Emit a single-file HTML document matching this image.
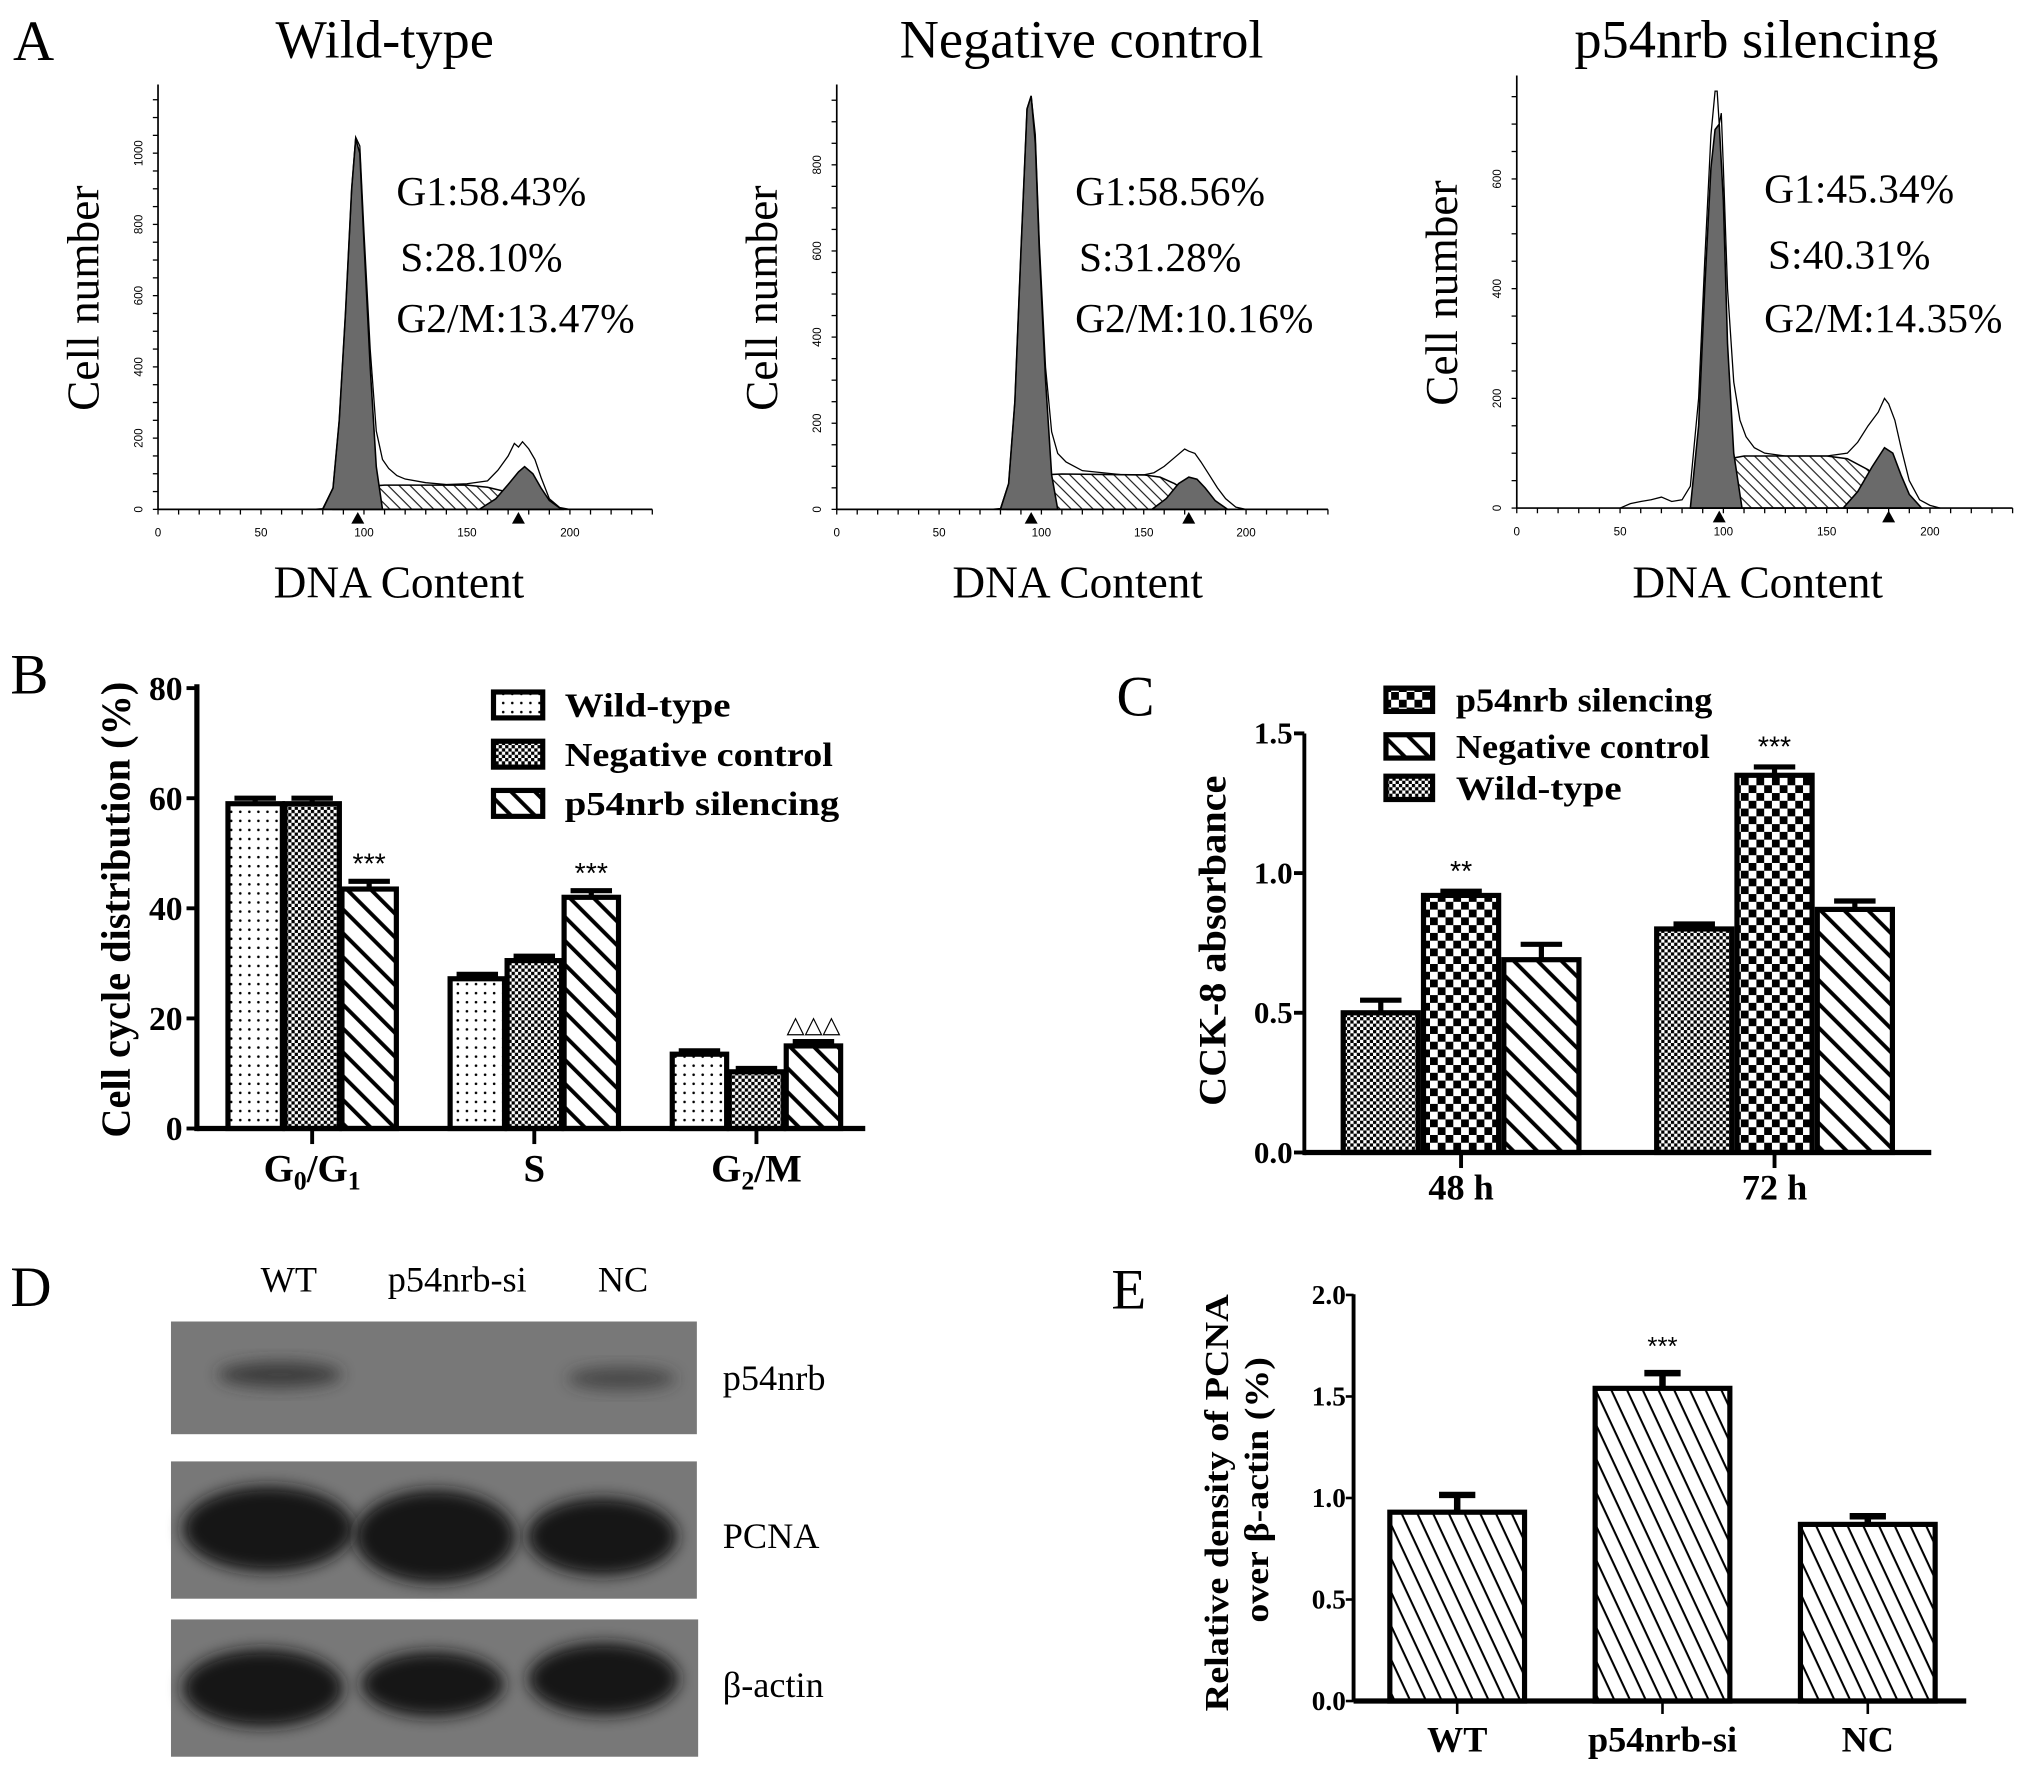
<!DOCTYPE html>
<html><head><meta charset="utf-8"><style>
html,body{margin:0;padding:0;background:#fff;}
svg{display:block;}
text{font-family:"Liberation Serif",serif;}
.sans{font-family:"Liberation Sans",sans-serif;}
</style></head><body>
<svg id="fig" xmlns="http://www.w3.org/2000/svg" width="2031" height="1770" viewBox="0 0 1568 1366">
<defs>
<pattern id="dots" width="7" height="7" patternUnits="userSpaceOnUse"><rect width="7" height="7" fill="#fff"/><circle cx="3.5" cy="3.5" r="1" fill="#000"/></pattern>
<pattern id="fineCheck" width="5" height="5" patternUnits="userSpaceOnUse"><rect width="5" height="5" fill="#fff"/><rect width="2.5" height="2.5" fill="#000"/><rect x="2.5" y="2.5" width="2.5" height="2.5" fill="#000"/></pattern>
<pattern id="bigCheck" width="12" height="12" patternUnits="userSpaceOnUse"><rect width="12" height="12" fill="#fff"/><rect width="6" height="6" fill="#000"/><rect x="6" y="6" width="6" height="6" fill="#000"/></pattern>
<pattern id="hatch" width="13" height="13" patternUnits="userSpaceOnUse" patternTransform="rotate(-45)"><rect width="13" height="13" fill="#fff"/><line x1="3" y1="0" x2="3" y2="13" stroke="#000" stroke-width="3"/></pattern>
<pattern id="hatchE" width="11" height="11" patternUnits="userSpaceOnUse" patternTransform="rotate(-25)"><rect width="11" height="11" fill="#fff"/><line x1="3" y1="0" x2="3" y2="11" stroke="#000" stroke-width="1.6"/></pattern>
<pattern id="hatchS" width="6" height="6" patternUnits="userSpaceOnUse" patternTransform="rotate(-45)"><rect width="6" height="6" fill="#fff"/><line x1="1" y1="0" x2="1" y2="6" stroke="#000" stroke-width="0.8"/></pattern>
<filter id="blur" x="-30%" y="-50%" width="160%" height="200%"><feGaussianBlur stdDeviation="6"/></filter>
</defs>

<text x="10" y="46" font-size="44">A</text>
<text x="297" y="44" font-size="42" text-anchor="middle">Wild-type</text>
<text x="835" y="44" font-size="42" text-anchor="middle">Negative control</text>
<text x="1356" y="44" font-size="42" text-anchor="middle">p54nrb silencing</text>

<g id="histWT"></g>
<g id="histNC"></g>
<g id="histP54"></g>

<text x="306" y="158" font-size="32">G1:58.43%</text>
<text x="309" y="209" font-size="32">S:28.10%</text>
<text x="306" y="256" font-size="32">G2/M:13.47%</text>
<text x="830" y="158" font-size="32">G1:58.56%</text>
<text x="833" y="209" font-size="32">S:31.28%</text>
<text x="830" y="256" font-size="32">G2/M:10.16%</text>
<text x="1362" y="156" font-size="32">G1:45.34%</text>
<text x="1365" y="207" font-size="32">S:40.31%</text>
<text x="1362" y="256" font-size="32">G2/M:14.35%</text>

<text x="8" y="535" font-size="44">B</text>
<g id="chartB"></g>
<text x="862" y="552" font-size="44">C</text>
<g id="chartC"></g>

<text x="8" y="1008" font-size="44">D</text>
<text x="223" y="997" font-size="28" text-anchor="middle">WT</text>
<text x="353" y="997" font-size="28" text-anchor="middle">p54nrb-si</text>
<text x="481" y="997" font-size="28" text-anchor="middle">NC</text>
<g>
<rect x="132" y="1020" width="406" height="87" fill="#787878"/>
<ellipse cx="216" cy="1061" rx="48" ry="10" fill="#2a2a2a" opacity="0.75" filter="url(#blur)"/>
<ellipse cx="480" cy="1064" rx="42" ry="9" fill="#2a2a2a" opacity="0.6" filter="url(#blur)"/>
</g>
<g>
<rect x="132" y="1128" width="406" height="106" fill="#787878"/>
<ellipse cx="207" cy="1180" rx="66" ry="33" fill="#141414" filter="url(#blur)"/>
<ellipse cx="336" cy="1186" rx="62" ry="36" fill="#141414" filter="url(#blur)"/>
<ellipse cx="465" cy="1186" rx="58" ry="30" fill="#141414" filter="url(#blur)"/>
</g>
<g>
<rect x="132" y="1250" width="407" height="106" fill="#787878"/>
<ellipse cx="203" cy="1303" rx="62" ry="30" fill="#141414" filter="url(#blur)"/>
<ellipse cx="334" cy="1300" rx="55" ry="25" fill="#141414" filter="url(#blur)"/>
<ellipse cx="466" cy="1296" rx="58" ry="28" fill="#141414" filter="url(#blur)"/>
</g>
<text x="558" y="1073" font-size="28">p54nrb</text>
<text x="558" y="1195" font-size="28">PCNA</text>
<text x="558" y="1310" font-size="28">β-actin</text>

<text x="858" y="1010" font-size="44">E</text>
<g id="chartE"></g>
</svg>
<script>
// ===== Panel A histogram data =====
const wtBins = [75,80,85,88,91,94,96,98,100,103,106,109,112,116,120,130,140,150,160,165,170,173,175,177,180,183,186,190,195,200];
const wtCounts = [0,2,60,250,550,900,1045,1020,780,450,220,140,115,95,85,75,70,72,80,110,150,185,175,190,170,140,90,30,5,0];
const wtG1X = [80,85,88,91,94,96,98,100,103,106,109];
const wtG1Y = [0,60,250,550,900,1040,1000,750,400,120,0];
const wtSX = [86,95,103,110,150,160,170,180,190];
const wtSY = [0,30,65,68,68,62,48,25,0];
const wtG2X = [156,164,170,175,178,182,186,190,196];
const wtG2Y = [0,30,70,105,120,100,60,25,0];
const wtPeaks = [97,175];

const ncBins = [75,80,84,87,90,93,95,97,99,102,105,108,112,116,120,130,140,150,155,160,165,170,172,175,178,182,186,190,195,200];
const ncCounts = [0,2,60,250,600,930,960,870,620,330,180,130,110,100,90,85,80,80,85,100,120,140,135,130,110,80,50,25,5,0];
const ncG1X = [80,84,87,90,93,95,97,99,102,105,108];
const ncG1Y = [0,60,250,600,930,960,850,600,300,80,0];
const ncSX = [84,92,100,110,150,158,165,175,185];
const ncSY = [0,30,80,82,80,75,60,30,0];
const ncG2X = [154,161,167,172,176,180,185,191];
const ncG2Y = [0,25,60,75,70,50,20,0];
const ncPeaks = [95,172];

const p54Bins = [50,55,60,65,70,75,80,84,88,91,94,96,97,98,99,100,102,105,108,111,115,120,130,140,150,160,165,170,175,178,180,183,186,190,195,200,205];
const p54Counts = [0,8,12,15,20,12,15,40,200,450,680,760,760,700,720,620,400,230,160,130,110,100,95,95,95,100,120,150,175,200,190,160,110,50,15,5,0];
const p54G1X = [84,88,91,94,96,98,100,102,105,109];
const p54G1Y = [0,150,400,620,690,700,560,300,100,0];
const p54SX = [86,95,103,110,150,160,170,180,192];
const p54SY = [0,40,90,95,95,90,70,35,0];
const p54G2X = [158,165,172,178,182,186,190,196];
const p54G2Y = [0,30,75,110,100,60,25,0];
const p54Peaks = [98,180];

const histXTicks = [0,50,100,150,200];
const wtYTicks = [0,200,400,600,800,1000];
const ncYTicks = [0,200,400,600,800];
const p54YTicks = [0,200,400,600];

// ===== Panel B data =====
const bCategories = ["G0/G1","S","G2/M"];
const bSeries = ["Wild-type","Negative control","p54nrb silencing"];
const bWT = [59,27.2,13.5];
const bNC = [59,30.5,10.3];
const bP54 = [43.5,42,15];
const bErrWT = [1,0.8,0.6];
const bErrNC = [1,0.8,0.6];
const bErrP54 = [1.4,1.2,0.8];
const bYTicks = [0,20,40,60,80];

// ===== Panel C data =====
const cCategories = ["48 h","72 h"];
const cSeries = ["p54nrb silencing","Negative control","Wild-type"];
const cWT = [0.50,0.80];
const cP54 = [0.92,1.35];
const cNC = [0.69,0.87];
const cErrWT = [0.045,0.018];
const cErrP54 = [0.015,0.03];
const cErrNC = [0.055,0.03];
const cYTicks = [0.0,0.5,1.0,1.5];

// ===== Panel E data =====
const eCategories = ["WT","p54nrb-si","NC"];
const eValues = [0.93,1.54,0.87];
const eErrors = [0.085,0.075,0.04];
const eYTicks = [0.0,0.5,1.0,1.5,2.0];

const NS = "http://www.w3.org/2000/svg";
function mk(parent, tag, attrs, txt){
  const e = document.createElementNS(NS, tag);
  for (const k in attrs) e.setAttribute(k, attrs[k]);
  if (txt !== undefined) e.textContent = txt;
  parent.appendChild(e);
  return e;
}

function drawHist(gid, cfg, bins, counts, g1x, g1y, sx, sy, g2x, g2y, peaks, yTicks){
  const g = document.getElementById(gid);
  const X = v => cfg.x0 + v*cfg.kx;
  const Y = v => cfg.y0 - v*cfg.ky;
  const pts = (xs, ys) => xs.map((x,i)=>X(x).toFixed(1)+","+Y(ys[i]).toFixed(1)).join(" ");
  let e;
  e = mk(g,"polygon",{points:pts(sx,sy),fill:"url(#hatchS)",stroke:"#000","stroke-width":1.2});
  
  
  e = mk(g,"polygon",{points:pts(g1x,g1y),fill:"#6a6a6a",stroke:"#000","stroke-width":1.2});
  
  
  e = mk(g,"polygon",{points:pts(g2x,g2y),fill:"#6a6a6a",stroke:"#000","stroke-width":1.2});
  
  
  e = mk(g,"polyline",{points:pts(bins,counts),fill:"none",stroke:"#000","stroke-width":1});
  
  
  const xEnd = X(240);
  const yTop = cfg.yTop;
  mk(g,"line",{x1:cfg.x0,y1:cfg.y0,x2:xEnd,y2:cfg.y0,stroke:"#000","stroke-width":1.3});
  mk(g,"line",{x1:cfg.x0,y1:cfg.y0,x2:cfg.x0,y2:yTop,stroke:"#000","stroke-width":1.3});
  for (let v=0; v<=240; v+=10){
    mk(g,"line",{x1:X(v),y1:cfg.y0,x2:X(v),y2:cfg.y0+4,stroke:"#000","stroke-width":1});
  }
  histXTicks.forEach(v=>{
    const t = mk(g,"text",{x:X(v),y:cfg.y0+21,"font-size":9,"text-anchor":"middle",class:"sans"},String(v));
    
    
  });
  for (let v=0; Y(v)>=yTop; v+=cfg.minor){
    mk(g,"line",{x1:cfg.x0,y1:Y(v),x2:cfg.x0-4,y2:Y(v),stroke:"#000","stroke-width":1});
  }
  yTicks.forEach(v=>{
    const t = mk(g,"text",{x:0,y:0,"font-size":9,"text-anchor":"middle",class:"sans",transform:`translate(${cfg.x0-12},${Y(v)}) rotate(-90)`},String(v));
    
    
  });
  peaks.forEach(p=>{
    const px = X(p);
    const m = mk(g,"polygon",{points:`${px-5},${cfg.y0+11} ${px+5},${cfg.y0+11} ${px},${cfg.y0+2}`,fill:"#000"});
    
    
  });
  let t = mk(g,"text",{x:0,y:0,"font-size":35,"text-anchor":"middle",transform:`translate(${cfg.x0-46},${(cfg.y0+yTop)/2+1}) rotate(-90)`},"Cell number");
  
  
  t = mk(g,"text",{x:cfg.x0+186,y:461,"font-size":35,"text-anchor":"middle"},"DNA Content");
  
  
}
drawHist("histWT",{x0:122,kx:1.59,y0:393,ky:0.275,yTop:65,minor:50},wtBins,wtCounts,wtG1X,wtG1Y,wtSX,wtSY,wtG2X,wtG2Y,wtPeaks,wtYTicks);
drawHist("histNC",{x0:646,kx:1.58,y0:393,ky:0.3325,yTop:65,minor:50},ncBins,ncCounts,ncG1X,ncG1Y,ncSX,ncSY,ncG2X,ncG2Y,ncPeaks,ncYTicks);
drawHist("histP54",{x0:1171,kx:1.595,y0:392,ky:0.4235,yTop:58,minor:50},p54Bins,p54Counts,p54G1X,p54G1Y,p54SX,p54SY,p54G2X,p54G2Y,p54Peaks,p54YTicks);

function bar(g, x, w, yTop, yBase, fill, name){
  const r = mk(g,"rect",{x:x,y:yTop,width:w,height:yBase-yTop,fill:fill,stroke:"#000","stroke-width":4});
  
  
  return r;
}
function errBar(g, cx, yv, ye, half, sw){
  const e = mk(g,"path",{d:`M${cx},${yv} V${ye} M${cx-half},${ye} H${cx+half}`,stroke:"#000","stroke-width":sw,fill:"none"});
  
  
}

// ===== Panel B =====
(function(){
  const g = document.getElementById("chartB");
  const x0=152, y0=871, top=528;
  const Y = v => y0 - v*(340/80);
  const gx = i => 241 + i*171.5;
  const fills = ["url(#dots)","url(#fineCheck)","url(#hatch)"];
  const vals = [bWT,bNC,bP54], errs=[bErrWT,bErrNC,bErrP54];
  bCategories.forEach((c,i)=>{
    vals.forEach((s,j)=>{
      const cx = gx(i)+(j-1)*44;
      errBar(g,cx,Y(s[i]),Y(s[i]+errs[j][i]),16,4);
      bar(g,cx-21,42,Y(s[i]),y0,fills[j],"bar-"+bSeries[j].toLowerCase().replace(/ /g,'-')+"-"+i);
    });
    mk(g,"line",{x1:gx(i),y1:y0,x2:gx(i),y2:y0+12,stroke:"#000","stroke-width":3});
  });
  mk(g,"line",{x1:x0,y1:y0,x2:668,y2:y0,stroke:"#000","stroke-width":4});
  mk(g,"line",{x1:x0,y1:y0+2,x2:x0,y2:top,stroke:"#000","stroke-width":4});
  bYTicks.forEach(v=>{
    mk(g,"line",{x1:x0,y1:Y(v),x2:x0-8,y2:Y(v),stroke:"#000","stroke-width":3});
    const t = mk(g,"text",{x:x0-11,y:Y(v)+9,"font-size":26,"font-weight":"bold","text-anchor":"end"},String(v));
    
    
  });
  const labels = [["G","0","/G","1"],["S"],["G","2","/M"]];
  labels.forEach((parts,i)=>{
    const t = mk(g,"text",{x:gx(i),y:912,"font-size":30,"font-weight":"bold","text-anchor":"middle"});
    parts.forEach((p,k)=>{
      mk(t,"tspan",(k%2===1)?{"font-size":20,dy:6}:(k>0?{dy:-6}:{}),p);
    });
    
    
  });
  let t = mk(g,"text",{x:0,y:0,"font-size":32,"font-weight":"bold","text-anchor":"middle",textLength:352,lengthAdjust:"spacingAndGlyphs",transform:"translate(100,702) rotate(-90)"},"Cell cycle distribution (%)");
  
  
  t = mk(g,"text",{x:gx(0)+44,y:Y(bP54[0]+bErrP54[0])-6,"font-size":22,"text-anchor":"middle",class:"sans"},"***");
  
  
  t = mk(g,"text",{x:gx(1)+44,y:Y(bP54[1]+bErrP54[1])-6,"font-size":22,"text-anchor":"middle",class:"sans"},"***");
  
  
  t = mk(g,"text",{x:gx(2)+44,y:Y(bP54[2]+bErrP54[2])-7,"font-size":18,"text-anchor":"middle",class:"sans"},"△△△");
  
  
  const ly=[544,582,620];
  const lw=[128,207,212];
  bSeries.forEach((s,j)=>{
    const r = mk(g,"rect",{x:381,y:ly[j]-10,width:38,height:20,fill:fills[j],stroke:"#000","stroke-width":4});
    
    
    const lt = mk(g,"text",{x:436,y:ly[j]+9,"font-size":26,"font-weight":"bold",textLength:lw[j],lengthAdjust:"spacingAndGlyphs"},s);
    
    
  });
})();

// ===== Panel C =====
(function(){
  const g = document.getElementById("chartC");
  const x0=1007, y0=889.5, top=566;
  const Y = v => y0 - v*215.7;
  const gx = i => 1128 + i*242;
  const order = [cWT,cP54,cNC], errs=[cErrWT,cErrP54,cErrNC];
  const fills = ["url(#fineCheck)","url(#bigCheck)","url(#hatch)"];
  const names = ["wild-type","p54nrb-silencing","negative-control"];
  cCategories.forEach((c,i)=>{
    order.forEach((s,j)=>{
      const cx = gx(i)+(j-1)*62;
      errBar(g,cx,Y(s[i]),Y(s[i]+errs[j][i]),16,4);
      bar(g,cx-29,58,Y(s[i]),y0,fills[j],"bar-"+names[j]+"-"+i);
    });
    mk(g,"line",{x1:gx(i),y1:y0,x2:gx(i),y2:y0+12,stroke:"#000","stroke-width":3});
    const t = mk(g,"text",{x:gx(i),y:926,"font-size":28,"font-weight":"bold","text-anchor":"middle"},c);
    
    
  });
  mk(g,"line",{x1:x0,y1:y0,x2:1491,y2:y0,stroke:"#000","stroke-width":4});
  mk(g,"line",{x1:x0,y1:y0+2,x2:x0,y2:top,stroke:"#000","stroke-width":3});
  cYTicks.forEach(v=>{
    mk(g,"line",{x1:x0,y1:Y(v),x2:x0-8,y2:Y(v),stroke:"#000","stroke-width":3});
    const t = mk(g,"text",{x:x0-9,y:Y(v)+8,"font-size":24,"font-weight":"bold","text-anchor":"end"},v.toFixed(1));
    
    
  });
  let t = mk(g,"text",{x:0,y:0,"font-size":30,"font-weight":"bold","text-anchor":"middle",textLength:255,lengthAdjust:"spacingAndGlyphs",transform:"translate(946,726) rotate(-90)"},"CCK-8 absorbance");
  
  
  t = mk(g,"text",{x:gx(0),y:Y(cP54[0]+cErrP54[0])-8,"font-size":22,"text-anchor":"middle",class:"sans"},"**");
  
  
  t = mk(g,"text",{x:gx(1),y:Y(cP54[1]+cErrP54[1])-8,"font-size":22,"text-anchor":"middle",class:"sans"},"***");
  
  
  const ly=[540,576,608];
  const lw=[198,196,128];
  const lf=["url(#bigCheck)","url(#hatch)","url(#fineCheck)"];
  cSeries.forEach((s,j)=>{
    const r = mk(g,"rect",{x:1070,y:ly[j]-9,width:36,height:18,fill:lf[j],stroke:"#000","stroke-width":4});
    
    
    const lt = mk(g,"text",{x:1124,y:ly[j]+9,"font-size":26,"font-weight":"bold",textLength:lw[j],lengthAdjust:"spacingAndGlyphs"},s);
    
    
  });
})();

// ===== Panel E =====
(function(){
  const g = document.getElementById("chartE");
  const x0=1045, y0=1313, top=999;
  const Y = v => y0 - v*156.75;
  const gx = i => 1125 + i*158.5;
  eCategories.forEach((c,i)=>{
    errBar(g,gx(i),Y(eValues[i]),Y(eValues[i]+eErrors[i]),14,5);
    bar(g,gx(i)-52,104,Y(eValues[i]),y0,"url(#hatchE)","bar-"+c.toLowerCase());
    mk(g,"line",{x1:gx(i),y1:y0,x2:gx(i),y2:y0+10,stroke:"#000","stroke-width":2});
    const t = mk(g,"text",{x:gx(i),y:1352,"font-size":28,"font-weight":"bold","text-anchor":"middle"},c);
    
    
  });
  mk(g,"line",{x1:x0,y1:y0,x2:1518,y2:y0,stroke:"#000","stroke-width":4});
  mk(g,"line",{x1:x0,y1:y0,x2:x0,y2:top,stroke:"#000","stroke-width":3});
  eYTicks.forEach(v=>{
    mk(g,"line",{x1:x0,y1:Y(v),x2:x0-6,y2:Y(v),stroke:"#000","stroke-width":2});
    const t = mk(g,"text",{x:x0-6,y:Y(v)+7,"font-size":21,"font-weight":"bold","text-anchor":"end"},v.toFixed(1));
    
    
  });
  let t = mk(g,"text",{x:0,y:0,"font-size":26,"font-weight":"bold","text-anchor":"middle",textLength:322,lengthAdjust:"spacingAndGlyphs",transform:"translate(948,1160) rotate(-90)"},"Relative density of PCNA");
  
  
  t = mk(g,"text",{x:0,y:0,"font-size":26,"font-weight":"bold","text-anchor":"middle",textLength:205,lengthAdjust:"spacingAndGlyphs",transform:"translate(979,1150) rotate(-90)"},"over β-actin (%)");
  
  
  t = mk(g,"text",{x:gx(1),y:Y(eValues[1]+eErrors[1])-14,"font-size":20,"text-anchor":"middle",class:"sans"},"***");
  
  
})();
</script>
</body></html>
